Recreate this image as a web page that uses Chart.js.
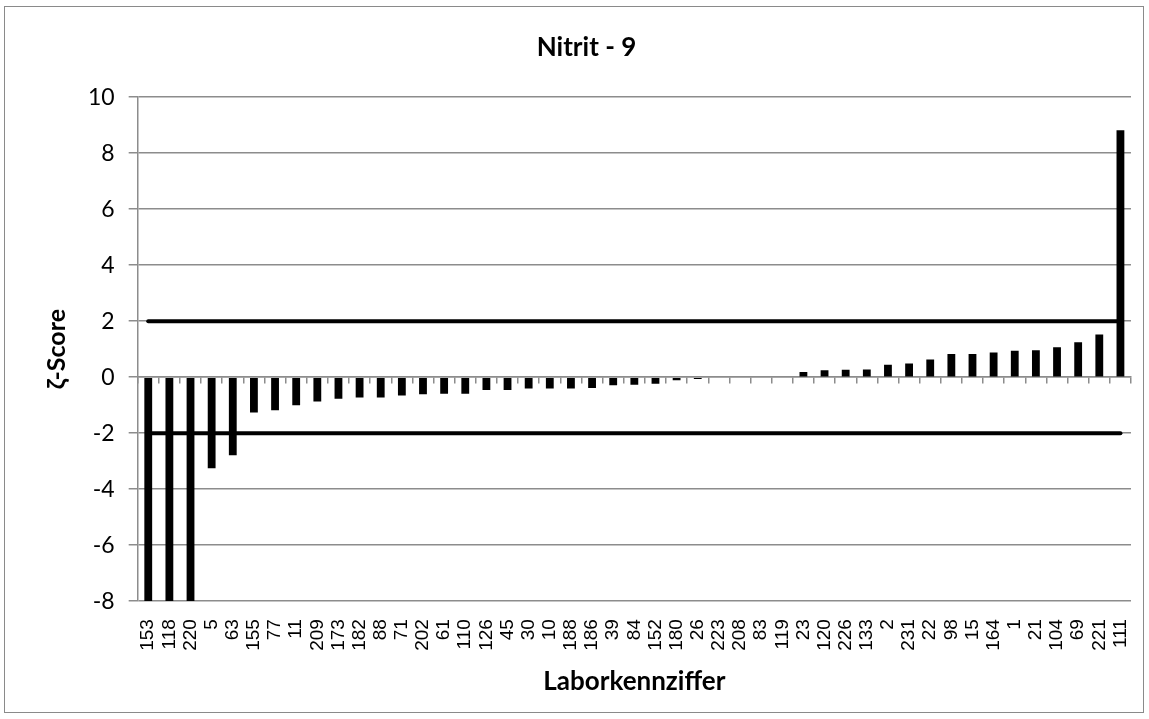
<!DOCTYPE html>
<html>
<head>
<meta charset="utf-8">
<script src="https://cdn.jsdelivr.net/npm/chart.js@4.4.1/dist/chart.umd.min.js"></script>
<style>
html,body{margin:0;padding:0;background:#fff;}
#wrap{position:absolute;left:0;top:0;width:1149px;height:719px;}
</style>
</head>
<body>
<div id="wrap"><canvas id="c" width="1149" height="719"></canvas></div>
<script>
const categories = ["153","118","220","5","63","155","77","11","209","173","182","88","71","202","61","110","126","45","30","10","188","186","39","84","152","180","26","223","208","83","119","23","120","226","133","2","231","22","98","15","164","1","21","104","69","221","111"];
const zetaScores = [-14,-11,-9,-3.25,-2.79,-1.26,-1.18,-1.0,-0.87,-0.77,-0.73,-0.73,-0.66,-0.61,-0.59,-0.59,-0.46,-0.46,-0.41,-0.41,-0.41,-0.39,-0.29,-0.27,-0.24,-0.11,-0.07,-0.03,0,0,0,0.18,0.25,0.26,0.27,0.44,0.49,0.63,0.83,0.83,0.88,0.94,0.96,1.07,1.25,1.52,8.82];
const upperLimit = [2];
const lowerLimit = [-2];
const yTicks = [-8,-6,-4,-2,0,2,4,6,8,10];

const GRID = '#8c8c8c';
const frame = {
  id: 'frame',
  beforeDraw(chart) {
    const ctx = chart.ctx;
    ctx.save();
    ctx.fillStyle = '#fff';
    ctx.fillRect(0, 0, chart.width, chart.height);
    ctx.strokeStyle = '#8a8a8a';
    ctx.lineWidth = 1;
    ctx.strokeRect(4.5, 6.5, 1139, 706);
    ctx.restore();
  }
};

new Chart(document.getElementById('c'), {
  type: 'bar',
  data: {
    labels: categories,
    datasets: [
      {
        type: 'line',
        data: categories.map(() => upperLimit[0]),
        borderColor: '#000',
        borderWidth: 4,
        borderCapStyle: 'round',
        pointRadius: 0,
        xAxisID: 'x',
        order: 0
      },
      {
        type: 'line',
        data: categories.map(() => lowerLimit[0]),
        borderColor: '#000',
        borderWidth: 4,
        borderCapStyle: 'round',
        pointRadius: 0,
        xAxisID: 'x',
        order: 0
      },
      {
        type: 'bar',
        data: zetaScores,
        backgroundColor: '#000',
        borderWidth: 0,
        barPercentage: 0.37,
        categoryPercentage: 1.0,
        xAxisID: 'x',
        order: 1
      }
    ]
  },
  options: {
    responsive: false,
    animation: false,
    devicePixelRatio: 1,
    layout: { padding: { left: 42, right: 18, top: 26, bottom: 22 } },
    plugins: {
      legend: { display: false },
      tooltip: { enabled: false },
      title: {
        display: true,
        text: 'Nitrit - 9',
        color: '#000',
        font: { family: 'Lato', size: 26, weight: 'bold' },
        padding: { top: 6, bottom: 34 }
      }
    },
    scales: {
      x: {
        type: 'category',
        position: 'bottom',
        offset: true,
        afterFit(scale) { scale.paddingLeft = 0; scale.paddingRight = 0; },
        grid: { display: false, offset: true },
        border: { display: false },
        ticks: {
          autoSkip: false,
          minRotation: 90,
          maxRotation: 90,
          color: '#000',
          padding: 10,
          font: { family: 'Liberation Sans', size: 19 }
        },
        title: {
          display: true,
          text: 'Laborkennziffer',
          color: '#000',
          font: { family: 'Lato', size: 26, weight: 'bold' },
          padding: { top: 5, bottom: 0 }
        }
      },
      x2: {
        type: 'category',
        labels: categories,
        position: { y: 0 },
        offset: true,
        afterFit(scale) { scale.paddingLeft = 0; scale.paddingRight = 0; },
        grid: { display: true, offset: true, drawOnChartArea: false, drawTicks: true, tickLength: 6, color: GRID, lineWidth: 1.5 },
        border: { display: true, color: GRID, width: 1.5 },
        ticks: { display: false, autoSkip: false }
      },
      y: {
        min: -8,
        max: 10,
        afterBuildTicks(axis) { axis.ticks = yTicks.map(v => ({ value: v })); },
        grid: { color: GRID, lineWidth: 1.5, tickLength: 9 },
        border: { display: true, color: GRID, width: 1.5 },
        ticks: {
          color: '#000',
          padding: 14,
          font: { family: 'Lato', size: 23 }
        },
        title: {
          display: true,
          text: 'ζ-Score',
          color: '#000',
          font: { family: 'Lato', size: 25, weight: 'bold' },
          padding: { top: 0, bottom: 2 }
        }
      }
    }
  },
  plugins: [frame]
});
</script>
</body>
</html>
